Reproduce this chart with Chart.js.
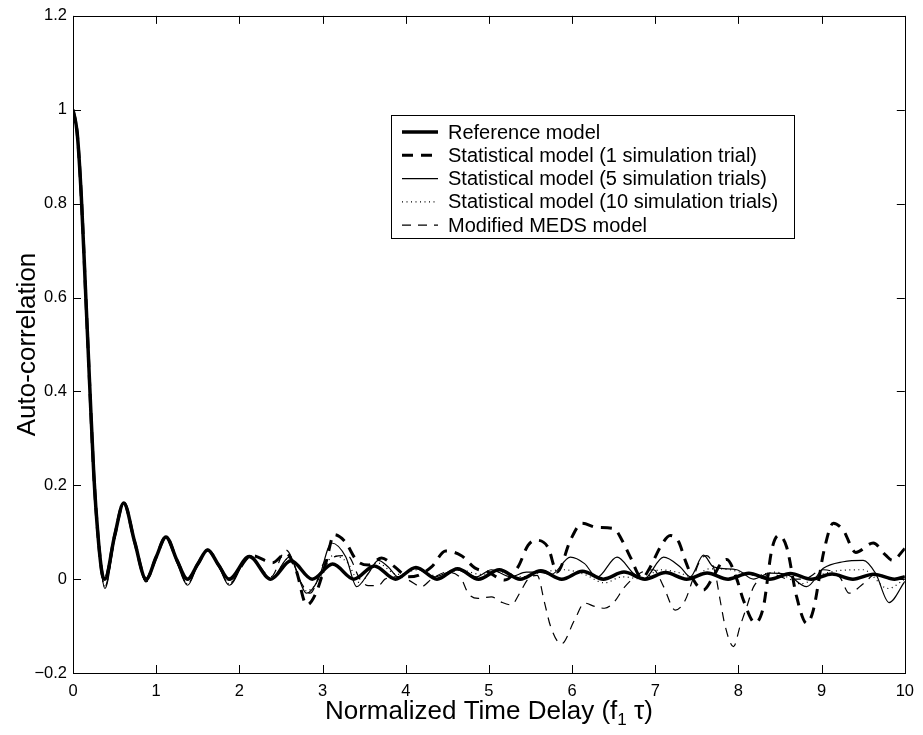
<!DOCTYPE html>
<html lang="en">
<head>
    <meta charset="UTF-8">
    <title>Auto-correlation</title>
    <script src="https://cdn.jsdelivr.net/npm/chart.js"></script>
    <style>
        body { margin: 0; background: #fff; }
        #wrap { width: 923px; height: 735px; }
    </style>
</head>
<body>
    <div id="wrap"><canvas id="acChart" width="923" height="735"></canvas></div>

    <script>
        // x positions (f1*tau) and values
        var refX = [0, 0.05, 0.1, 0.15, 0.2, 0.25, 0.3, 0.35, 0.383, 0.5, 0.61, 0.74, 0.879, 1.0, 1.117, 1.25, 1.377, 1.5, 1.619, 1.75, 1.876,
            2.12, 2.376, 2.621, 2.876, 3.122, 3.376, 3.623, 3.876, 4.123, 4.376, 4.623, 4.876, 5.124, 5.376, 5.624, 5.876,
            6.124, 6.376, 6.624, 6.876, 7.124, 7.376, 7.624, 7.876, 8.124, 8.376, 8.624, 8.876, 9.125, 9.376, 9.625, 9.876, 10];
        var refY = [1, 0.951, 0.815, 0.618, 0.416, 0.223, 0.094, 0.012, 0, 0.092, 0.162, 0.080, 0, 0.047, 0.090, 0.040, 0, 0.032, 0.062, 0.030, 0,
            0.048, 0, 0.039, 0, 0.032, 0, 0.028, 0, 0.025, 0, 0.022, 0, 0.020, 0, 0.018, 0,
            0.017, 0, 0.015, 0, 0.014, 0, 0.013, 0, 0.0125, 0, 0.012, 0, 0.011, 0, 0.0105, 0, 0.005];

        var trial1X = [0, 0.05, 0.1, 0.15, 0.2, 0.25, 0.3, 0.35, 0.383, 0.5, 0.61, 0.74, 0.879, 1.0, 1.117, 1.25, 1.377, 1.5, 1.619, 1.75, 1.876,
            2.15, 2.4, 2.56, 2.68, 2.81, 2.92, 3.04, 3.14, 3.27, 3.41, 3.55, 3.71, 3.87, 4.03, 4.15, 4.31, 4.48, 4.67, 4.83, 4.99,
            5.19, 5.35, 5.47, 5.56, 5.71, 5.82, 5.98, 6.12, 6.3, 6.5, 6.6, 6.7, 6.84, 6.94, 7.06, 7.18, 7.28, 7.36, 7.46, 7.58,
            7.68, 7.8, 7.86, 7.98, 8.06, 8.2, 8.3, 8.4, 8.48, 8.58, 8.7, 8.82, 8.9, 9.03, 9.14, 9.26, 9.41, 9.62, 9.77, 9.85, 10];
        var trial1Y = [1, 0.951, 0.815, 0.618, 0.416, 0.223, 0.094, 0.012, 0, 0.092, 0.162, 0.080, 0, 0.047, 0.090, 0.040, 0, 0.032, 0.062, 0.030, 0,
            0.05, 0.035, 0.055, 0.02, -0.055, -0.03, 0.035, 0.095, 0.08, 0.04, 0.03, 0.045, 0.026, 0.005, 0.008, 0.026, 0.06, 0.05, 0.024, 0.015,
            -0.002, 0.026, 0.072, 0.083, 0.068, 0.015, 0.083, 0.119, 0.11, 0.108, 0.083, 0.047, 0.002, 0.026, 0.068, 0.093, 0.08, 0.04, -0.002, -0.023,
            0.0, 0.036, 0.042, 0.0, -0.045, -0.093, -0.059, 0.062, 0.093, 0.068, -0.038, -0.094, -0.066, 0.062, 0.119, 0.104, 0.057, 0.077, 0.051, 0.04, 0.065];

        var trial5X = [0, 0.05, 0.1, 0.15, 0.2, 0.25, 0.3, 0.35, 0.383, 0.5, 0.61, 0.74, 0.879, 1.0, 1.117, 1.25, 1.377, 1.5, 1.619, 1.75, 1.876,
            2.12, 2.38, 2.6, 2.81, 2.95, 3.11, 3.28, 3.41, 3.55, 3.67, 3.79, 3.91, 4.11, 4.35, 4.6, 4.85, 5.03, 5.26, 5.45, 5.59, 5.75,
            5.98, 6.15, 6.3, 6.54, 6.74, 6.86, 7.1, 7.3, 7.42, 7.58, 7.7, 7.98, 8.18, 8.38, 8.58, 8.82, 9.02, 9.26, 9.5, 9.65, 9.81, 10];
        var trial5Y = [1, 0.951, 0.815, 0.618, 0.416, 0.223, 0.094, 0.005, -0.02, 0.085, 0.162, 0.078, -0.006, 0.045, 0.088, 0.035, -0.013, 0.03, 0.062, 0.028, -0.013,
            0.05, 0.0, 0.047, -0.03, 0.0, 0.077, 0.047, -0.016, 0.012, 0.04, 0.026, 0.005, 0.023, 0.005, 0.02, 0.005, 0.02, 0.005, 0.015, 0.015, 0.01,
            0.047, 0.033, 0.004, 0.047, 0.012, 0.0, 0.047, 0.026, 0.005, 0.051, 0.026, 0.02, 0.0, 0.013, 0.01, -0.016, 0.023, 0.037, 0.04, 0.012, -0.05, -0.005];

        var trial10X = [0, 0.05, 0.1, 0.15, 0.2, 0.25, 0.3, 0.35, 0.383, 0.5, 0.61, 0.74, 0.879, 1.0, 1.117, 1.25, 1.377, 1.5, 1.619, 1.75, 1.876,
            2.12, 2.38, 2.6, 2.81, 3.0, 3.12, 3.3, 3.45, 3.65, 3.9, 4.15, 4.4, 4.65, 4.9, 5.15, 5.4, 5.65, 5.9, 6.15, 6.39, 6.6,
            6.85, 7.05, 7.26, 7.45, 7.65, 7.9, 8.2, 8.45, 8.75, 9.0, 9.2, 9.5, 9.8, 10];
        var trial10Y = [1, 0.951, 0.815, 0.618, 0.416, 0.223, 0.094, 0.006, -0.016, 0.087, 0.162, 0.078, -0.005, 0.046, 0.089, 0.037, -0.01, 0.031, 0.062, 0.029, -0.01,
            0.05, 0.0, 0.045, -0.025, 0.01, 0.05, 0.035, -0.008, 0.035, 0.01, 0.02, 0.005, 0.02, 0.01, 0.015, 0.005, 0.015, 0.02, 0.01, -0.008, 0.005,
            0.0, 0.02, 0.015, 0.005, 0.022, 0.02, 0.008, 0.015, -0.01, 0.01, 0.018, 0.02, -0.02, 0.0];

        var medsX = [0, 0.05, 0.1, 0.15, 0.2, 0.25, 0.3, 0.35, 0.383, 0.5, 0.61, 0.74, 0.879, 1.0, 1.117, 1.25, 1.377, 1.5, 1.619, 1.75, 1.876,
            2.12, 2.38, 2.56, 2.75, 2.85, 3.04, 3.3, 3.45, 3.55, 3.67, 3.75, 3.9, 4.03, 4.19, 4.31, 4.5, 4.67, 4.75, 4.87, 5.03, 5.15,
            5.27, 5.37, 5.47, 5.58, 5.67, 5.74, 5.87, 6.03, 6.15, 6.27, 6.39, 6.5, 6.63, 6.82, 6.98, 7.1, 7.24, 7.36, 7.46, 7.54,
            7.62, 7.72, 7.78, 7.84, 7.94, 8.02, 8.1, 8.18, 8.3, 8.42, 8.6, 8.78, 9.02, 9.22, 9.33, 9.5, 9.67, 9.83, 10];
        var medsY = [1, 0.951, 0.815, 0.618, 0.416, 0.223, 0.094, 0.006, -0.016, 0.087, 0.162, 0.078, -0.005, 0.046, 0.089, 0.037, -0.01, 0.031, 0.062, 0.029, -0.01,
            0.05, 0.005, 0.062, -0.01, -0.03, 0.04, 0.05, 0.0, -0.014, -0.014, 0.0, 0.005, -0.002, -0.016, 0.0, 0.015, 0.0, -0.03, -0.041, -0.038, -0.049,
            -0.055, -0.03, 0.0, 0.008, -0.051, -0.1, -0.138, -0.087, -0.051, -0.058, -0.062, -0.05, -0.017, 0.013, 0.02, -0.016, -0.066, -0.045, 0.004, 0.04,
            0.05, 0.013, -0.045, -0.1, -0.144, -0.1, -0.059, -0.017, 0.004, 0.01, 0.0, 0.0, 0.02, 0.004, -0.03, -0.01, 0.013, 0.0, 0.005];

        var seriesNames = ['Reference model', 'Statistical model (1 simulation trial)', 'Statistical model (5 simulation trials)',
            'Statistical model (10 simulation trials)', 'Modified MEDS model'];

        var fontName = '"Liberation Sans", Arial, Helvetica, sans-serif';

        function toPoints(xs, ys) {
            return xs.map(function (x, i) { return { x: x, y: ys[i] }; });
        }

        var styles = [
            { width: 3.5, dash: [] },
            { width: 3, dash: [11, 8] },
            { width: 1.2, dash: [] },
            { width: 1.2, dash: [1, 3.5] },
            { width: 1.2, dash: [9, 7] }
        ];

        var allX = [refX, trial1X, trial5X, trial10X, medsX];
        var allY = [refY, trial1Y, trial5Y, trial10Y, medsY];

        var datasets = seriesNames.map(function (name, i) {
            return {
                label: name,
                data: toPoints(allX[i], allY[i]),
                borderColor: '#000',
                borderWidth: styles[i].width,
                borderDash: styles[i].dash,
                pointRadius: 0,
                fill: false,
                cubicInterpolationMode: 'monotone',
                order: 4 - i
            };
        });

        // MATLAB style box, inward ticks, legend and axis titles
        var frame = {
            id: 'frame',
            afterDatasetsDraw: function (chart) {
                var ctx = chart.ctx;
                var a = chart.chartArea;
                var xs = chart.scales.x, ys = chart.scales.y;
                ctx.save();
                ctx.strokeStyle = '#000';
                ctx.lineWidth = 1;
                ctx.setLineDash([]);
                ctx.strokeRect(Math.round(a.left) + 0.5, Math.round(a.top) + 0.5,
                    Math.round(a.right - a.left), Math.round(a.bottom - a.top));
                ctx.beginPath();
                xs.ticks.forEach(function (t) {
                    var px = Math.round(xs.getPixelForValue(t.value)) + 0.5;
                    ctx.moveTo(px, a.bottom); ctx.lineTo(px, a.bottom - 8);
                    ctx.moveTo(px, a.top); ctx.lineTo(px, a.top + 8);
                });
                ys.ticks.forEach(function (t) {
                    var py = Math.round(ys.getPixelForValue(t.value)) + 0.5;
                    ctx.moveTo(a.left, py); ctx.lineTo(a.left + 8, py);
                    ctx.moveTo(a.right, py); ctx.lineTo(a.right - 8, py);
                });
                ctx.stroke();

                // legend
                var lx = 391, ly = 115, lw = 403, lh = 123;
                ctx.fillStyle = '#fff';
                ctx.fillRect(lx, ly, lw, lh);
                ctx.strokeRect(lx + 0.5, ly + 0.5, lw, lh);
                ctx.font = '20px ' + fontName;
                ctx.textBaseline = 'middle';
                ctx.textAlign = 'left';
                seriesNames.forEach(function (name, i) {
                    var ry = 132 + i * 23.3;
                    ctx.beginPath();
                    ctx.lineWidth = styles[i].width;
                    ctx.setLineDash(styles[i].dash);
                    ctx.moveTo(402, ry); ctx.lineTo(438, ry);
                    ctx.stroke();
                    ctx.fillStyle = '#000';
                    ctx.fillText(name, 448, ry + 1);
                });

                // axis titles
                ctx.setLineDash([]);
                ctx.fillStyle = '#000';
                var p1 = 'Normalized Time Delay (f', p3 = ' \u03c4)';
                ctx.font = '26px ' + fontName;
                var w1 = ctx.measureText(p1).width, w3 = ctx.measureText(p3).width;
                ctx.font = '17px ' + fontName;
                var w2 = ctx.measureText('1').width;
                var cx = (a.left + a.right) / 2;
                var sx = cx - (w1 + w2 + w3) / 2;
                ctx.textBaseline = 'alphabetic';
                ctx.font = '26px ' + fontName;
                ctx.fillText(p1, sx, 719);
                ctx.font = '17px ' + fontName;
                ctx.fillText('1', sx + w1, 725);
                ctx.font = '26px ' + fontName;
                ctx.fillText(p3, sx + w1 + w2, 719);

                ctx.translate(28, (a.top + a.bottom) / 2);
                ctx.rotate(-Math.PI / 2);
                ctx.textAlign = 'center';
                ctx.textBaseline = 'middle';
                ctx.fillText('Auto-correlation', 0, 0);
                ctx.restore();
            }
        };

        var ctx = document.getElementById('acChart').getContext('2d');
        new Chart(ctx, {
            type: 'line',
            data: { datasets: datasets },
            options: {
                responsive: false,
                animation: false,
                layout: { padding: { top: 14, right: 14, left: 0, bottom: 0 } },
                plugins: { legend: { display: false }, tooltip: { enabled: false } },
                scales: {
                    x: {
                        type: 'linear',
                        min: 0,
                        max: 10,
                        grid: { display: false, drawTicks: false },
                        border: { display: false },
                        ticks: { stepSize: 1, padding: 9, color: '#000', font: { family: fontName, size: 16.5 }, maxRotation: 0 },
                        afterFit: function (s) { s.height = 62; }
                    },
                    y: {
                        min: -0.2,
                        max: 1.2,
                        grid: { display: false, drawTicks: false },
                        border: { display: false },
                        ticks: {
                            stepSize: 0.2,
                            padding: 6,
                            color: '#000',
                            font: { family: fontName, size: 16.5 },
                            callback: function (v) {
                                var s = String(Math.round(v * 10) / 10);
                                return s.replace('-', '\u2212');
                            }
                        },
                        afterFit: function (s) { s.width = 73; }
                    }
                }
            },
            plugins: [frame]
        });
    </script>
</body>
</html>
